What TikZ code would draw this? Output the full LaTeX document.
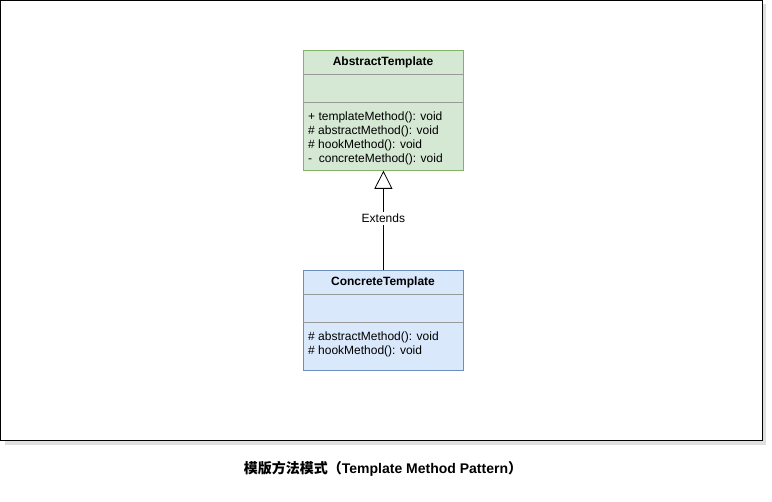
\documentclass[tikz,border=0pt]{standalone}
\usepackage{fontspec}
\setmainfont{Liberation Sans}
\newfontfamily\cjk{Noto Sans CJK SC}
\usetikzlibrary{arrows.meta,shadows}

\definecolor{greenfill}{HTML}{D5E8D4}
\definecolor{greendraw}{HTML}{82B366}
\definecolor{bluefill}{HTML}{DAE8FC}
\definecolor{bluedraw}{HTML}{6C8EBF}

\begin{document}
\begin{tikzpicture}
[
	x=1pt, y=-1pt,
	classbox/.style={draw,line width=0.8pt,rectangle,inner sep=0pt,minimum width=160pt},
	sepline/.style={line width=0.6pt,draw=gray!80},
	members/.style={anchor=north west,align=left,inner sep=0pt,font=\fontsize{12}{14}\selectfont},
	title/.style={font=\fontsize{12}{14}\selectfont\bfseries,inner sep=0pt},
	extends/.style={-{Triangle[open,width=18pt,length=18pt]},line width=0.8pt}
]

	\useasboundingbox (0,0) rectangle (772,502);

	% frame
	\draw[line width=1pt,fill=white,drop shadow={shadow xshift=4pt,shadow yshift=-4pt,opacity=.25,fill=gray}]
		(0.5,0.5) rectangle (762,441);

	% abstract class
	\node[classbox,fill=greenfill,draw=greendraw,minimum height=120pt,anchor=north west] at (303,50) (abstract) {};
	\draw[sepline] (303,74) -- (463,74);
	\draw[sepline] (303,102.5) -- (463,102.5);
	\node[title] at (383,62.5) (abstract-name) {AbstractTemplate};
	\node[members] at (308,111.3) (abstract-ops) {+ templateMethod(): void\\\# abstractMethod(): void\\\# hookMethod(): void\\-\ \ concreteMethod(): void};

	% concrete class
	\node[classbox,fill=bluefill,draw=bluedraw,minimum height=100pt,anchor=north west] at (303,270) (concrete) {};
	\draw[sepline] (303,294) -- (463,294);
	\draw[sepline] (303,322) -- (463,322);
	\node[title] at (383,282.5) (concrete-name) {ConcreteTemplate};
	\node[members] at (308,331.3) (concrete-ops) {\# abstractMethod(): void\\\# hookMethod(): void};

	% inheritance
	\draw[extends] (concrete) -- (abstract)
		node[pos=0.52,fill=white,inner sep=2pt,font=\fontsize{12}{14}\selectfont] (extends-label) {Extends};

	% caption
	\node[font=\fontsize{14}{16}\selectfont\bfseries] at (383,469) (caption)
		{{\cjk 模版方法模式（}Template Method Pattern{\cjk ）}};

\end{tikzpicture}
\end{document}
